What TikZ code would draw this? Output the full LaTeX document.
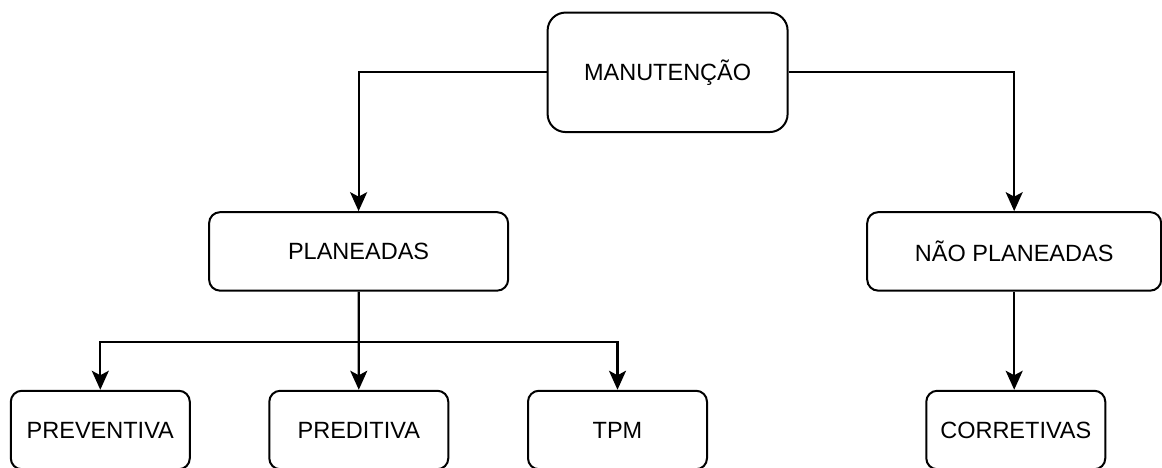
\documentclass[tikz,border=0pt]{standalone}
\usepackage{fontspec}
\setmainfont{Liberation Sans}
\usetikzlibrary{arrows.meta}
\begin{document}
\begin{tikzpicture}[x=1pt,y=-1pt,
  box/.style={draw=black, line width=2pt, rounded corners=11pt, fill=white,
    minimum width=179pt, minimum height=78.5pt, inner sep=0pt,
    font=\fontsize{23.5}{28}\selectfont},
  link/.style={line width=2.2pt, draw=black,
    -{Stealth[length=19pt, width=17pt, inset=4.5pt]}}]
\useasboundingbox (0,0) rectangle (1162,467);
% top level
\node[box, minimum width=240pt, minimum height=119.5pt, rounded corners=18pt]
  (man) at (667.6,72.3) {MANUTENÇÃO};
% second level
\node[box, minimum width=299pt] (plan) at (358.6,251.4) {PLANEADAS};
\node[box, minimum width=294pt] (nplan) at (1014.2,251.4) {NÃO PLANEADAS};
% third level
\node[box] (prev) at (100.3,430) {PREVENTIVA};
\node[box] (pred) at (358.8,430) {PREDITIVA};
\node[box] (tpm)  at (617.5,430) {TPM};
\node[box] (corr) at (1015.8,430) {CORRETIVAS};
% connectors
\draw[link] (man.west) -| (plan.north);
\draw[link] (man.east) -| (nplan.north);
\draw[link] (plan.south) -- ++(0,50.5) -| (prev.north);
\draw[link] (plan.south) -- (pred.north);
\draw[link] (plan.south) -- ++(0,50.5) -| (tpm.north);
\draw[link] (nplan.south) -- (nplan.south |- corr.north);
\end{tikzpicture}
\end{document}
